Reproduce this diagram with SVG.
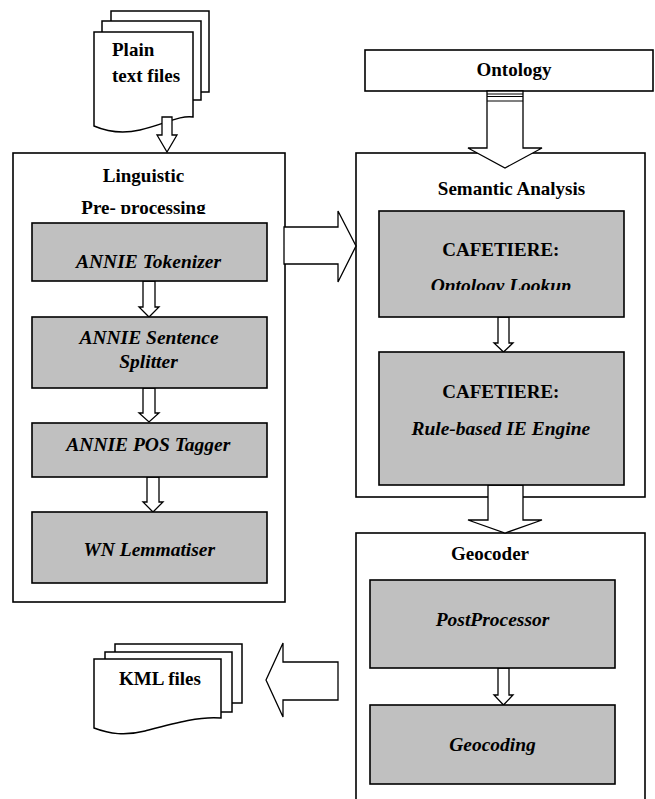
<svg xmlns="http://www.w3.org/2000/svg" width="655" height="799" viewBox="0 0 655 799">
<style>
.box{fill:#fff;stroke:#000;stroke-width:1.6}
.mod{fill:#c0c0c0;stroke:#000;stroke-width:1.6}
.doc{fill:#fff;stroke:#000;stroke-width:1.5}
.arr{fill:#fff;stroke:#000;stroke-width:1.3;stroke-linejoin:miter}
.ln{stroke:#000;stroke-width:1.2}
text{font-family:"Liberation Serif","Times New Roman",serif;font-weight:bold;font-size:19px;fill:#000}
.it{font-style:italic;font-size:19.5px}
.m{text-anchor:middle}
</style>
<defs>
<clipPath id="clipPre"><rect x="13" y="150" width="272" height="64"/></clipPath>
<clipPath id="clipOnt"><rect x="379" y="211" width="245" height="79"/></clipPath>
</defs>
<rect width="655" height="799" fill="#fff"/>

<g id="plain-text-files">
<rect class="doc" x="111" y="11" width="98" height="81"/>
<rect class="doc" x="102" y="21" width="99" height="79"/>
<path class="doc" d="M94,32 H193 V117 C180,115 165,124 140,130 C122,134 108,132 94,126 Z"/>
<text x="112" y="56">Plain</text>
<text x="112" y="82">text files</text>
</g>

<g id="linguistic">
<rect class="box" x="13" y="153" width="272" height="449"/>
<text class="m" x="143.5" y="182">Linguistic</text>
<text class="m" x="143.5" y="214" clip-path="url(#clipPre)">Pre- processing</text>
</g>

<g id="ontology">
<rect class="box" x="365" y="50" width="288" height="41"/>
<text class="m" x="514" y="76">Ontology</text>
</g>

<g id="semantic">
<rect class="box" x="356" y="153" width="289" height="344"/>
<text class="m" x="511.5" y="194.5">Semantic Analysis</text>
</g>

<g id="geocoder">
<rect class="box" x="356" y="533" width="289" height="280"/>
<text class="m" x="490" y="559.5">Geocoder</text>
</g>

<g id="kml-files">
<rect class="doc" x="115" y="644" width="127" height="59"/>
<rect class="doc" x="105" y="652" width="127" height="60"/>
<path class="doc" d="M94,659 H221 V718 C200,716 175,723 145,731 C125,736 110,734 94,728 Z"/>
<text class="m" x="160" y="684.5">KML files</text>
</g>

<g id="connectors">
<polygon class="arr" points="162,117 172,117 172,135 177,135 167,152 157,135 162,135"/>
<polygon class="arr" points="143,281 155,281 155,307 159,307 149,317 139,307 143,307"/>
<polygon class="arr" points="143,388 155,388 155,413 159,413 149,422 139,413 143,413"/>
<polygon class="arr" points="147,477 159,477 159,502 163,502 153,512 143,502 147,502"/>
<polygon class="arr" points="284,227 338,227 338,211 356,246 338,282 338,264 284,264"/>
<polygon class="arr" points="487,91 523,91 523,148 542,148 505,168 468,148 487,148"/>
<line class="ln" x1="487" y1="94" x2="523" y2="94"/>
<line class="ln" x1="487" y1="96.5" x2="523" y2="96.5"/>
<line class="ln" x1="487" y1="101" x2="523" y2="101"/>
<polygon class="arr" points="498,317 509,317 509,343 513,343 503.5,352 494,343 498,343"/>
<polygon class="arr" points="488,485 523,485 523,520 542,520 505,533 468,520 488,520"/>
<polygon class="arr" points="498,668 509,668 509,695 513,695 503.5,705 494,695 498,695"/>
<polygon class="arr" points="338,662 338,700 283,700 283,717 266,680 283,643 283,662"/>
</g>

<g id="annie-tokenizer">
<rect class="mod" x="32" y="223" width="235" height="58"/>
<text class="m it" x="148.5" y="268">ANNIE Tokenizer</text>
</g>
<g id="annie-sentence-splitter">
<rect class="mod" x="32" y="317" width="235" height="71"/>
<text class="m it" x="149" y="344">ANNIE Sentence</text>
<text class="m it" x="148.5" y="368">Splitter</text>
</g>
<g id="annie-pos-tagger">
<rect class="mod" x="32" y="423" width="235" height="54"/>
<text class="m it" x="148.3" y="451">ANNIE POS Tagger</text>
</g>
<g id="wn-lemmatiser">
<rect class="mod" x="32" y="512" width="235" height="71"/>
<text class="m it" x="149.3" y="556">WN Lemmatiser</text>
</g>

<g id="ontology-lookup">
<rect class="mod" x="379" y="211" width="245" height="106"/>
<text class="m" x="500.8" y="256">CAFETIERE:</text>
<text class="m it" x="500.8" y="292" clip-path="url(#clipOnt)">Ontology Lookup</text>
</g>
<g id="rule-based-ie">
<rect class="mod" x="379" y="352" width="245" height="133"/>
<text class="m" x="500.8" y="398">CAFETIERE:</text>
<text class="m it" x="500.8" y="434.5">Rule-based IE Engine</text>
</g>

<g id="postprocessor">
<rect class="mod" x="370" y="580" width="245" height="88"/>
<text class="m it" x="492.5" y="626">PostProcessor</text>
</g>
<g id="geocoding">
<rect class="mod" x="370" y="705" width="245" height="79"/>
<text class="m it" x="492.5" y="751">Geocoding</text>
</g>
</svg>
